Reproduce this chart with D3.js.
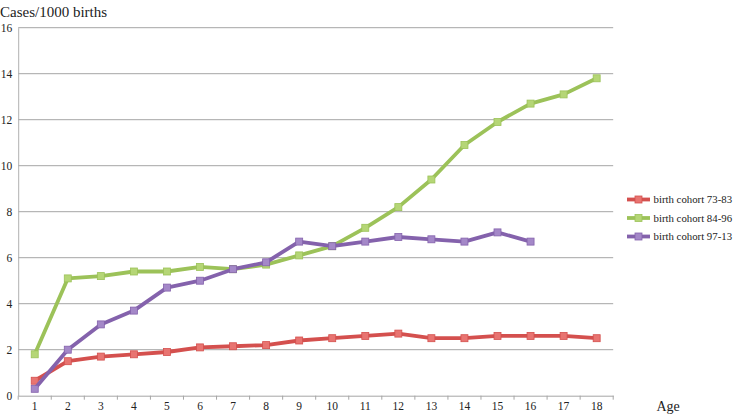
<!DOCTYPE html>
<html><head><meta charset="utf-8">
<script src="https://cdn.jsdelivr.net/npm/d3@7"></script>
<style>body{margin:0;background:#fff}svg text{font-family:"Liberation Serif","Times New Roman",serif !important}</style>
</head><body><svg id="c" width="734" height="414"></svg>
<script>
const ages = ["1","2","3","4","5","6","7","8","9","10","11","12","13","14","15","16","17","18"];
const yTicks = [0,2,4,6,8,10,12,14,16];
const seriesNames = ["birth cohort 73-83","birth cohort 84-96","birth cohort 97-13"];
const cohort7383 = [0.65,1.5,1.7,1.8,1.9,2.1,2.15,2.2,2.4,2.5,2.6,2.7,2.5,2.5,2.6,2.6,2.6,2.5];
const cohort8496 = [1.8,5.1,5.2,5.4,5.4,5.6,5.5,5.7,6.1,6.5,7.3,8.2,9.4,10.9,11.9,12.7,13.1,13.8];
const cohort9713 = [0.3,2.0,3.1,3.7,4.7,5.0,5.5,5.8,6.7,6.5,6.7,6.9,6.8,6.7,7.1,6.7];
const lineColors = ["#D4504E","#9CC259","#8462AC"];
const markFill = ["#E87471","#B5D676","#A488C8"];

const svg = d3.select("#c");
const L = 18.2, R = 613.2, T = 27.7, B = 395.7;
const x = d3.scaleBand().domain(ages).range([L, R]);
const y = d3.scaleLinear().domain([0,16]).range([B, T]);

// gridlines
svg.append("g").selectAll("line").data(yTicks.filter(d=>d>0)).join("line")
  .attr("x1", L).attr("x2", R).attr("y1", d=>y(d)).attr("y2", d=>y(d))
  .attr("stroke", "#A6A6A6").attr("stroke-width", 1);

// y axis
const ya = svg.append("g").attr("transform", `translate(${L},0)`)
  .call(d3.axisLeft(y).tickValues(yTicks).tickSize(0).tickPadding(6));
ya.select(".domain").attr("stroke", "#B0B0B0");
ya.selectAll("text").attr("font-size", 11.5).attr("fill", "#222");

// x axis
const xa = svg.append("g").attr("transform", `translate(0,${B})`)
  .call(d3.axisBottom(x).tickSize(0).tickPadding(6));
xa.select(".domain").attr("stroke", "#A6A6A6");
xa.selectAll("text").attr("font-size", 11.5).attr("fill", "#222");
// boundary tick marks
const bounds = ages.map(a => x(a)).concat([R]);
svg.append("g").selectAll("line").data(bounds).join("line")
  .attr("x1", d=>d).attr("x2", d=>d).attr("y1", B).attr("y2", B+4)
  .attr("stroke", "#A6A6A6");

const data = [cohort7383, cohort8496, cohort9713];
const cx = i => x(ages[i]) + x.bandwidth()/2;
const line = d3.line().x((d,i)=>cx(i)).y(d=>y(d));

data.forEach((s, k) => {
  const g = svg.append("g");
  g.append("path").datum(s).attr("d", line).attr("fill", "none")
    .attr("stroke", lineColors[k]).attr("stroke-width", 3.8).attr("stroke-linejoin", "round");
  g.selectAll("rect").data(s).join("rect")
    .attr("x", (d,i)=>cx(i)-3.5).attr("y", d=>y(d)-3.5).attr("width", 7).attr("height", 7)
    .attr("fill", markFill[k]).attr("stroke", lineColors[k]).attr("stroke-width", 0.8);
});

// legend
const legY = [199.5, 218, 236.5];
seriesNames.forEach((n, k) => {
  const g = svg.append("g");
  g.append("line").attr("x1", 627).attr("x2", 650).attr("y1", legY[k]).attr("y2", legY[k])
    .attr("stroke", lineColors[k]).attr("stroke-width", 3.8);
  g.append("rect").attr("x", 635).attr("y", legY[k]-3.5).attr("width", 7).attr("height", 7)
    .attr("fill", markFill[k]).attr("stroke", lineColors[k]).attr("stroke-width", 0.8);
  g.append("text").attr("x", 653.5).attr("y", legY[k]).attr("dy", "0.35em")
    .attr("font-size", 10.8).attr("fill", "#222").text(n);
});

// axis titles
svg.append("text").attr("x", 0).attr("y", 17).attr("font-size", 15).attr("fill", "#222").text("Cases/1000 births");
svg.append("text").attr("x", 656.5).attr("y", 411).attr("font-size", 14).attr("fill", "#222").text("Age");
</script>
</body></html>
